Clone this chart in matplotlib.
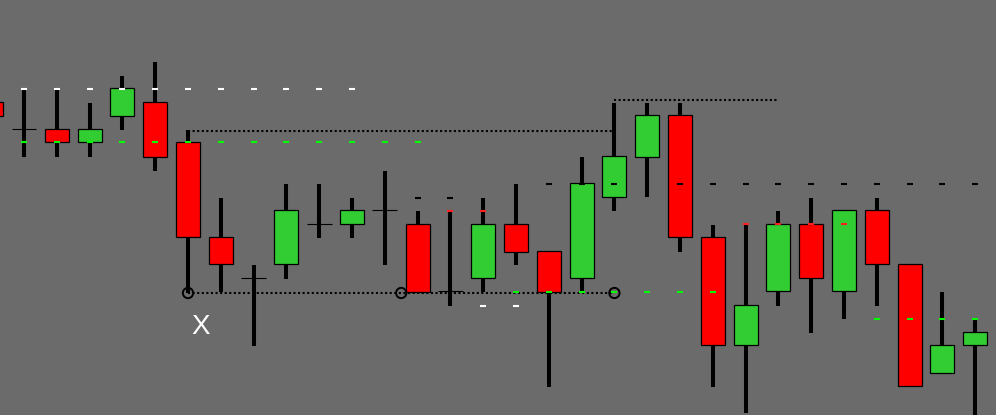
import matplotlib
matplotlib.use("Agg")
import matplotlib.pyplot as plt
import numpy as np

# candle data (index -1 is the partly hidden bar at the left edge)
idx = list(range(-1, 30))
opens = [313, 286, 286, 273, 299, 313, 273, 178, 137, 151, 191, 191, 205, 191, 124,
         137, 191, 164, 137, 218, 258, 300, 178, 70, 124, 191, 124, 205, 151, 42, 70]
highs = [320, 326, 326, 312, 339, 353, 285, 217, 150, 231, 231, 217, 244, 204, 204,
         217, 231, 164, 258, 312, 312, 312, 190, 191, 204, 217, 205, 217, 151, 123, 96]
lows = [290, 258, 258, 258, 285, 244, 122, 123, 69, 136, 177, 177, 150, 123, 109,
        123, 150, 28, 123, 204, 218, 163, 28, 2, 109, 82, 96, 109, 29, 42, -5]
closes = [299, 286, 273, 286, 327, 258, 178, 151, 137, 205, 191, 205, 205, 123, 124,
          191, 163, 123, 232, 259, 300, 178, 70, 110, 191, 137, 205, 151, 29, 70, 83]

# indicator dashes: (colour, level, candles)
dash_sets = [
    ("white", 326, list(range(0, 11))),
    ("#00ff00", 273, list(range(0, 13))),
    ("black", 217, [12, 13]),
    ("black", 231, [16, 17, 18] + list(range(20, 30))),
    ("#ff2020", 204, [13, 14]),
    ("#ff2020", 191, [22, 23, 24, 25]),
    ("white", 109, [14, 15]),
    ("#00ff00", 123, list(range(15, 22))),
    ("#00ff00", 96, [26, 27, 28, 29]),
]

# dotted levels: (level, from candle, to candle)
levels = [(284, 5, 18), (315, 18, 23), (122, 5, 18)]
circle_x = [5, 11.5, 18]
circle_y = 122

bg = "#6b6b6b"
fig = plt.figure(figsize=(9.96, 4.15), dpi=100, facecolor=bg)
ax = fig.add_axes([0, 0, 1, 1])
ax.set_facecolor(bg)

bw = 0.73
for i, o, h, l, c in zip(idx, opens, highs, lows, closes):
    ax.vlines(i, l, h, color="black", lw=2.9, zorder=2)
    if o == c:
        ax.hlines(o, i - 0.38, i + 0.38, color="black", lw=0.8, zorder=3)
    else:
        col = "#32cd32" if c > o else "#ff0000"
        ax.add_patch(plt.Rectangle((i - bw / 2, min(o, c)), bw, abs(c - o),
                                   facecolor=col, edgecolor="black", lw=0.9, zorder=3))

for col, lev, cands in dash_sets:
    xs = np.array(cands)
    ax.hlines([lev] * len(xs), xs - 0.09, xs + 0.09, color=col, lw=1.5, zorder=5)

for lev, a, b in levels:
    ax.plot([a, b], [lev, lev], color="black", lw=1.5, ls=(0, (1, 1.2)), zorder=4)

ax.scatter(circle_x, [circle_y] * len(circle_x), s=55, facecolor="none",
           edgecolor="black", lw=1.4, zorder=6)

ax.text(5.4, 88, "X", color="white", fontsize=20, ha="center", va="center",
        family="Liberation Sans")

ax.set_xlim(-24 / 32.8, 972 / 32.8)
ax.set_ylim(0, 415)
ax.axis("off")

fig.savefig("out.png", dpi=100, facecolor=bg)
